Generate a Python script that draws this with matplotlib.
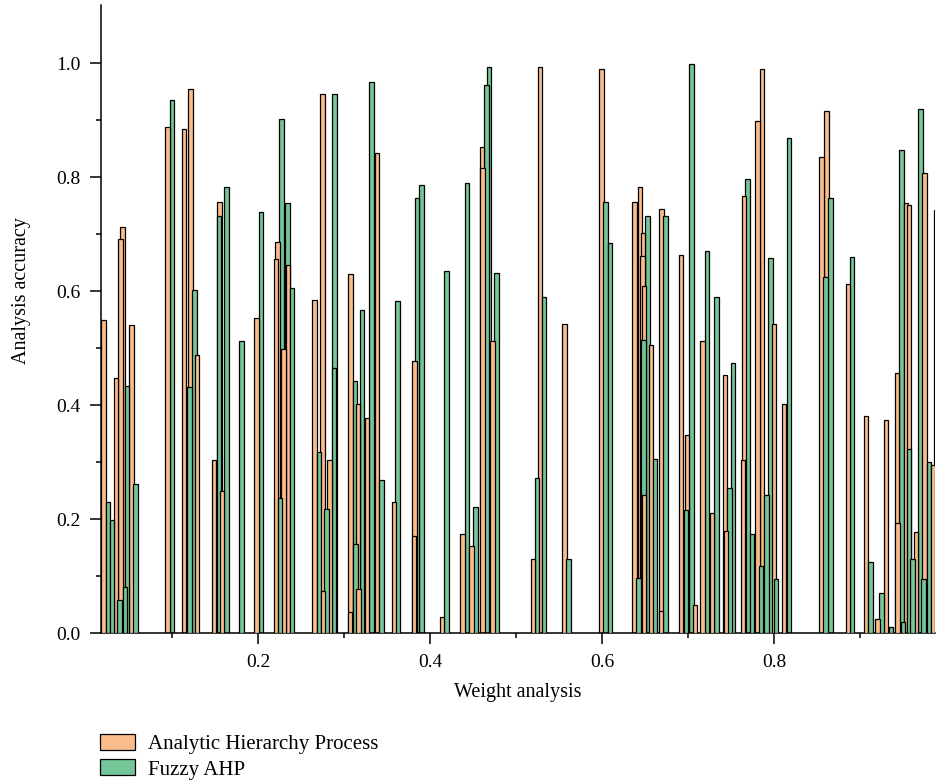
import matplotlib.pyplot as plt
import numpy as np

plt.rcParams['font.family'] = 'serif'
plt.rcParams['font.serif'] = ['Liberation Serif', 'DejaVu Serif']

# Posições (peso) e alturas (acurácia)
ahp_x = [0.0201, 0.0345, 0.0401, 0.0424, 0.0527, 0.0945, 0.1140, 0.1211, 0.1290,
         0.1490, 0.1550, 0.1580, 0.1980, 0.2210, 0.2223, 0.2297, 0.2350, 0.2657,
         0.2750, 0.2756, 0.2828, 0.3070, 0.3076, 0.3160, 0.3165, 0.3267, 0.3384,
         0.3578, 0.3810, 0.3817, 0.4140, 0.4376, 0.4480, 0.4605, 0.4610, 0.4727,
         0.5194, 0.5275, 0.5564, 0.5992, 0.6376, 0.6440, 0.6470, 0.6477, 0.6488,
         0.6490, 0.6570, 0.6686, 0.6690, 0.6920, 0.6990, 0.7080, 0.7166, 0.7277,
         0.7428, 0.7442, 0.7640, 0.7650, 0.7806, 0.7860, 0.7996, 0.8116, 0.8550,
         0.8610, 0.8857, 0.9070, 0.9200, 0.9300, 0.9430, 0.9435, 0.9535, 0.9567,
         0.9650, 0.9750, 0.9850, 0.9890]
ahp_y = [0.550, 0.447, 0.691, 0.713, 0.540, 0.888, 0.885, 0.955, 0.488,
         0.304, 0.757, 0.250, 0.552, 0.656, 0.686, 0.498, 0.646, 0.585,
         0.946, 0.074, 0.303, 0.037, 0.629, 0.401, 0.077, 0.377, 0.843,
         0.229, 0.171, 0.478, 0.028, 0.173, 0.153, 0.853, 0.815, 0.512,
         0.130, 0.993, 0.543, 0.989, 0.756, 0.783, 0.662, 0.701, 0.243,
         0.609, 0.506, 0.039, 0.744, 0.664, 0.348, 0.050, 0.512, 0.211,
         0.452, 0.179, 0.304, 0.766, 0.898, 0.989, 0.542, 0.401, 0.835,
         0.915, 0.612, 0.381, 0.025, 0.373, 0.456, 0.193, 0.755, 0.751,
         0.177, 0.807, 0.294, 0.742]

fuzzy_x = [0.0252, 0.0298, 0.0390, 0.0453, 0.0473, 0.0576, 0.1000, 0.1200, 0.1260,
           0.1547, 0.1630, 0.1806, 0.2035, 0.2256, 0.2270, 0.2340, 0.2395, 0.2707,
           0.2797, 0.2880, 0.2890, 0.3128, 0.3134, 0.3210, 0.3317, 0.3436, 0.3620,
           0.3850, 0.3900, 0.4190, 0.4430, 0.4530, 0.4655, 0.4686, 0.4770, 0.5246,
           0.5327, 0.5607, 0.6040, 0.6093, 0.6424, 0.6480, 0.6530, 0.6616, 0.6736,
           0.6977, 0.7040, 0.7220, 0.7330, 0.7480, 0.7520, 0.7690, 0.7744, 0.7850,
           0.7910, 0.7960, 0.8020, 0.8174, 0.8600, 0.8655, 0.8907, 0.9120, 0.9250,
           0.9357, 0.9480, 0.9500, 0.9570, 0.9610, 0.9700, 0.9740, 0.9800]
fuzzy_y = [0.229, 0.199, 0.058, 0.080, 0.433, 0.261, 0.936, 0.431, 0.602,
           0.731, 0.783, 0.512, 0.739, 0.237, 0.902, 0.754, 0.605, 0.318,
           0.217, 0.465, 0.945, 0.443, 0.157, 0.567, 0.967, 0.269, 0.583,
           0.763, 0.786, 0.635, 0.789, 0.221, 0.962, 0.993, 0.632, 0.272,
           0.589, 0.129, 0.757, 0.684, 0.097, 0.514, 0.732, 0.306, 0.732,
           0.215, 0.999, 0.670, 0.589, 0.254, 0.473, 0.797, 0.174, 0.118,
           0.243, 0.658, 0.094, 0.869, 0.624, 0.763, 0.659, 0.124, 0.070,
           0.011, 0.847, 0.019, 0.322, 0.130, 0.920, 0.094, 0.300]

cor_ahp = '#FBBC8B'
cor_fuzzy = '#74C597'
largura = 0.0052

fig = plt.figure(figsize=(9.36, 7.84), dpi=100)
ax = fig.add_axes([0.108, 0.1926, 0.891, 0.801])

b1 = ax.bar(ahp_x, ahp_y, width=largura, color=cor_ahp, edgecolor='black',
            linewidth=0.9, label='Analytic Hierarchy Process')
b2 = ax.bar(fuzzy_x, fuzzy_y, width=largura, color=cor_fuzzy, edgecolor='black',
            linewidth=0.9, label='Fuzzy AHP')

# barras mais baixas ficam na frente
for p in list(b1) + list(b2):
    p.set_zorder(2 + (1.2 - p.get_height()))

ax.set_xlim(0.0174, 0.9872)
ax.set_ylim(0, 1.1018)
ax.set_xticks([0.2, 0.4, 0.6, 0.8])
ax.set_xticks(np.arange(0.1, 0.95, 0.1), minor=True)
ax.set_yticks(np.arange(0, 1.01, 0.2))
ax.set_yticks(np.arange(0.1, 1.05, 0.2), minor=True)
ax.tick_params(axis='both', which='major', length=8, width=1.1, labelsize=14,
               direction='out', pad=7)
ax.tick_params(axis='both', which='minor', length=3.6, width=1.1, direction='out')

ax.set_xlabel('Weight analysis', fontsize=14.5, labelpad=9)
ax.set_ylabel('Analysis accuracy', fontsize=14.5)
ax.yaxis.set_label_coords(-0.084, 0.546)

ax.spines['top'].set_visible(False)
ax.spines['right'].set_visible(False)
ax.spines['left'].set_linewidth(1.1)
ax.spines['bottom'].set_linewidth(1.1)

fig.legend(handles=[b1, b2], loc='lower left', bbox_to_anchor=(0.0975, -0.005),
           frameon=False, fontsize=15, handlelength=1.7, handleheight=0.82,
           handletextpad=0.6, labelspacing=0.25, borderaxespad=0)

plt.savefig('out.png', dpi=100)
plt.close()
